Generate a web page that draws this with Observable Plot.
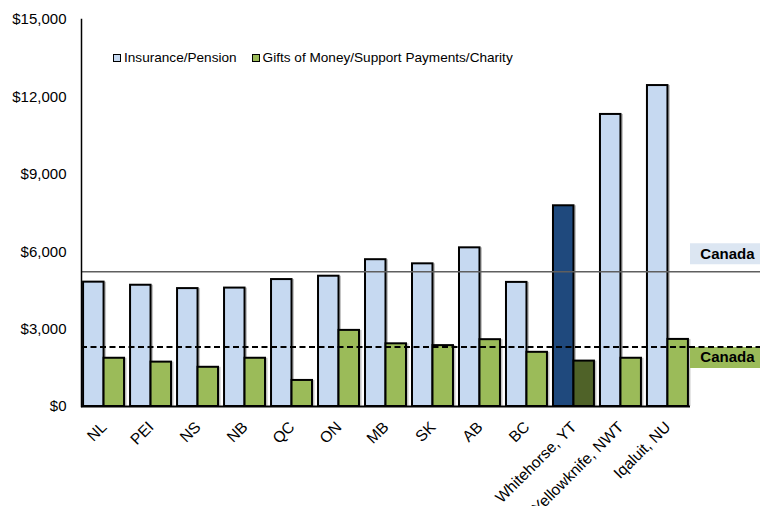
<!DOCTYPE html>
<html>
<head>
<meta charset="utf-8">
<script src="https://cdn.jsdelivr.net/npm/d3@7"></script>
<script src="https://cdn.jsdelivr.net/npm/@observablehq/plot@0.6"></script>
<style>
  html, body { margin: 0; padding: 0; background: #fff; }
  #wrap { position: relative; width: 760px; height: 506px; overflow: hidden; font-family: "Liberation Sans", Arial, sans-serif; }
  #legend { position: absolute; left: 113px; top: 50px; font-size: 13.6px; color: #000; display: flex; align-items: center; white-space: nowrap; }
  #legend .sw { display: inline-block; width: 6px; height: 6px; border: 1.5px solid #000; margin-right: 3px; }
  #legend .item { display: flex; align-items: center; margin-right: 15px; }
</style>
</head>
<body>
<div id="wrap"><div id="legend"></div></div>
<script>
const categories = ["NL","PEI","NS","NB","QC","ON","MB","SK","AB","BC","Whitehorse, YT","Yellowknife, NWT","Iqaluit, NU"];
const insurance = [4820,4700,4570,4590,4920,5050,5690,5530,6150,4810,7780,11320,12440];
const gifts = [1870,1720,1520,1870,1010,2950,2430,2360,2590,2100,1760,1870,2600];
const canadaInsurance = 5220;
const canadaGifts = 2310;
const highlight = "Whitehorse, YT";
const seriesNames = ["Insurance/Pension", "Gifts of Money/Support Payments/Charity"];
const yTicks = [0, 3000, 6000, 9000, 12000, 15000];

const colors = {
  ins: "#c6d9f1", insHi: "#1f497d",
  gift: "#9bbb59", giftHi: "#4f6228",
  insBox: "#dce6f2", giftBox: "#9bbb59"
};

const W = 760, H = 506, mL = 81, mT = 19, mB = 100, plotRight = 690;
const pInner = 0.128, pOuter = 0.044;
const step = (plotRight - mL) / (categories.length - pInner + 2 * pOuter);
const bw = step * (1 - pInner);

const rows = categories.map((c, i) => ({cat: c, ins: insurance[i], gift: gifts[i]}));

const font = "'Liberation Sans', Arial, sans-serif";

const chart = Plot.plot({
  width: W, height: H,
  marginLeft: mL, marginRight: 0, marginTop: mT, marginBottom: mB,
  style: {fontFamily: font, fontSize: "15px", color: "#000", background: "transparent"},
  x: {type: "band", domain: categories, range: [mL, plotRight], paddingInner: pInner, paddingOuter: pOuter, round: false, label: null},
  y: {domain: [0, 15000], label: null},
  color: {type: "identity"},
  marks: [
    // shadows
    Plot.barY(rows, {x: "cat", y: "ins", fill: "#c4c4c4", insetRight: bw / 2, dx: 2.5}),
    Plot.barY(rows, {x: "cat", y: "gift", fill: "#c4c4c4", insetLeft: bw / 2, dx: 2.5}),
    // bars
    Plot.barY(rows, {x: "cat", y: "ins", fill: d => d.cat === highlight ? colors.insHi : colors.ins, stroke: "#000", strokeWidth: 2, insetRight: bw / 2}),
    Plot.barY(rows, {x: "cat", y: "gift", fill: d => d.cat === highlight ? colors.giftHi : colors.gift, stroke: "#000", strokeWidth: 2, insetLeft: bw / 2}),
    // canada label boxes
    Plot.ruleY([canadaInsurance], {stroke: colors.insBox, strokeWidth: 21, insetLeft: plotRight - mL, dy: -18}),
    Plot.ruleY([canadaGifts], {stroke: colors.giftBox, strokeWidth: 21, insetLeft: plotRight - mL, dy: 10.5}),
    // canada lines
    Plot.ruleY([canadaInsurance], {stroke: "#5f5f5f", strokeWidth: 1.5}),
    Plot.ruleY([canadaGifts], {stroke: "#000", strokeWidth: 2, strokeDasharray: "6,3.5"}),
    Plot.text([canadaInsurance], {y: d => d, frameAnchor: "right", textAnchor: "end", dx: -6, dy: -18, text: () => "Canada", fontWeight: "bold", fontSize: 15, fill: "#000"}),
    Plot.text([canadaGifts], {y: d => d, frameAnchor: "right", textAnchor: "end", dx: -6, dy: 10.5, text: () => "Canada", fontWeight: "bold", fontSize: 15, fill: "#000"}),
    // axes
    Plot.ruleY([0], {stroke: "#000", strokeWidth: 2, insetRight: W - plotRight}),
    Plot.frame({anchor: "left", stroke: "#000", strokeWidth: 1.5}),
    Plot.axisY({ticks: yTicks, tickFormat: d => "$" + d3.format(",")(d), tickSize: 0, tickPadding: 15, fontSize: 15}),
    Plot.axisX({tickSize: 0, tickPadding: 18, tickRotate: -45, fontSize: 15.6, dx: 0, label: null})
  ]
});

const wrap = document.getElementById("wrap");
wrap.insertBefore(chart, wrap.firstChild);

const legend = document.getElementById("legend");
[colors.ins, colors.gift].forEach((c, i) => {
  const item = document.createElement("span");
  item.className = "item";
  const sw = document.createElement("span");
  sw.className = "sw";
  sw.style.background = c;
  item.appendChild(sw);
  item.appendChild(document.createTextNode(seriesNames[i]));
  legend.appendChild(item);
});
</script>
</body>
</html>
